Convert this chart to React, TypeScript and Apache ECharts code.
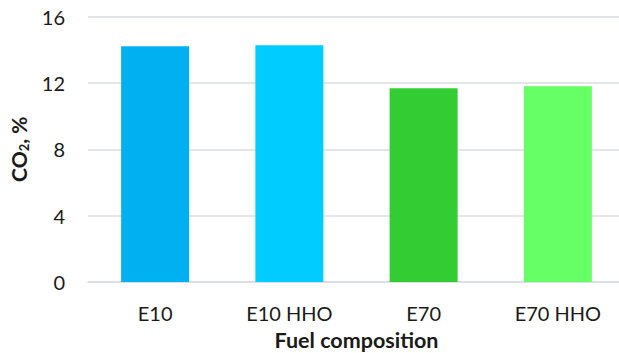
import React, { useEffect, useRef } from "react";
import * as echarts from "echarts";

const categories = ["E10", "E10 HHO", "E70", "E70 HHO"];
const co2Values = [14.2, 14.27, 11.68, 11.8];
const barColors = ["#00B0F0", "#00CCFF", "#33CC33", "#66FF66"];
const yTicks = { min: 0, max: 16, interval: 4 };

export default function App() {
  const ref = useRef<HTMLDivElement>(null);
  useEffect(() => {
    if (!ref.current) return;
    const chart = echarts.init(ref.current, null, { renderer: "svg" });
    const font = "Lato, 'Open Sans', sans-serif";
    chart.setOption({
      animation: false,
      backgroundColor: "#ffffff",
      grid: { left: 88, top: 16.5, width: 537, height: 265.5, outerBoundsMode: "none", containLabel: false },
      xAxis: {
        type: "category",
        data: categories,
        axisTick: { show: false },
        axisLine: { lineStyle: { color: "#d9dde3", width: 1.5 } },
        axisLabel: { color: "#1a1a1a", fontSize: 20, fontFamily: font, margin: 21 },
        name: "Fuel composition",
        nameLocation: "middle",
        nameGap: 47,
        nameTextStyle: { color: "#1a1a1a", fontSize: 21.5, fontWeight: "bold", fontFamily: font },
      },
      yAxis: {
        type: "value",
        min: yTicks.min,
        max: yTicks.max,
        interval: yTicks.interval,
        axisLine: { show: false },
        axisTick: { show: false },
        splitLine: { lineStyle: { color: "#d9dde3", width: 1.5 } },
        axisLabel: { color: "#1a1a1a", fontSize: 20, fontFamily: font, margin: 23 },
        name: "{a|CO}{s|2}{a|, %}",
        nameLocation: "middle",
        nameGap: 50,
        nameRotate: 90,
        nameTextStyle: {
          rich: {
            a: { fontSize: 21, fontWeight: "bold", fontFamily: font, color: "#1a1a1a", lineHeight: 26 },
            s: { fontSize: 13, fontWeight: "bold", fontFamily: font, color: "#1a1a1a", lineHeight: 14, padding: [12, 0, 0, 0] },
          },
        },
      },
      series: [
        {
          type: "bar",
          barWidth: 68,
          data: co2Values.map((v, i) => ({ value: v, itemStyle: { color: barColors[i] } })),
        },
      ],
    });
    return () => chart.dispose();
  }, []);
  return (
    <div style={{ position: "fixed", left: 0, top: 0, width: 619, height: 353, overflow: "hidden" }}>
      <div ref={ref} style={{ width: 640, height: 353 }} />
    </div>
  );
}
